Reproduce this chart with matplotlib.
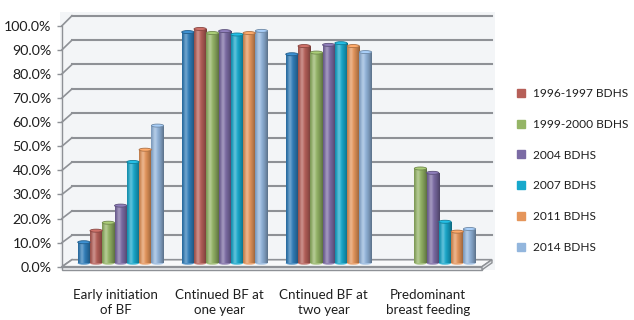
import numpy as np
import matplotlib
matplotlib.use('Agg')
import matplotlib.pyplot as plt
from matplotlib.patches import Ellipse, Polygon, Rectangle
from matplotlib.lines import Line2D
from matplotlib.transforms import ScaledTranslation
from matplotlib.colors import to_rgb

plt.rcParams['font.family'] = ['Lato', 'DejaVu Sans']
plt.rcParams['font.size'] = 10

categories = ['Early initiation\nof BF', 'Cntinued BF at\none year',
              'Cntinued BF at\ntwo year', 'Predominant\nbreast feeding']
surveys = ['1993-1994 BDHS', '1996-1997 BDHS', '1999-2000 BDHS', '2004 BDHS',
           '2007 BDHS', '2011 BDHS', '2014 BDHS']
colors = ['#2F7DBA', '#B65F58', '#95B566', '#7B6BA4', '#17A8CC', '#E5955A', '#93B6DD']

# percentages per survey, one value per category (nan = not reported)
bdhs_1993 = [8.7, 95.9, 86.7, np.nan]
bdhs_1996 = [13.5, 97.2, 90.1, np.nan]
bdhs_1999 = [16.8, 95.5, 87.4, 39.3]
bdhs_2004 = [23.9, 96.3, 90.6, 37.5]
bdhs_2007 = [42.0, 94.9, 91.3, 17.2]
bdhs_2011 = [47.1, 95.5, 90.1, 13.1]
bdhs_2014 = [57.1, 96.4, 87.6, 14.2]
series = [bdhs_1993, bdhs_1996, bdhs_1999, bdhs_2004, bdhs_2007, bdhs_2011, bdhs_2014]

W, H = 634, 320
fig = plt.figure(figsize=(W / 100, H / 100), dpi=100)
ax = fig.add_axes([62 / W, 53.3 / H, 420 / W, 241 / H])
ax.patch.set_visible(False)
for s in ax.spines.values():
    s.set_visible(False)

XL, XR = -0.516, 3.522
YMAX = 100

# plot-area background
fig.add_artist(Rectangle((60 / W, 50 / H), 435 / W, 258 / H, transform=fig.transFigure,
                         facecolor='#F3F5F7', edgecolor='none', zorder=-5))

# depth offsets of the back wall (x in data units, y in percent)
def back(x, v):
    return x + 0.096, v + (7 + 0.03 * v) / 2.41

grid_c = '#8E9196'
for v in range(0, 101, 10):
    bx0, by = back(XL, v)
    bx1, _ = back(XR, v)
    if v > 0:
        ax.plot([bx0, bx1], [by, by], color=grid_c, lw=1.5, zorder=1, clip_on=False)
    ax.plot([XL, bx0], [v, by], color=grid_c, lw=1.2, zorder=1, clip_on=False)
ax.plot([XL, XL], [0, YMAX], color=grid_c, lw=1.0, zorder=1, clip_on=False)

# floor slab
fb0 = back(XL, 0)
fb1 = back(XR, 0)
slab = 1.3
ax.add_patch(Polygon([(XL, 0), (XR, 0), fb1, fb0], closed=True, facecolor='#F8F9FA',
                     edgecolor=grid_c, lw=1.2, zorder=1, clip_on=False))
ax.add_patch(Polygon([(XL, 0), (XR, 0), (XR, -slab), (XL, -slab)], closed=True,
                     facecolor='#EDEFF1', edgecolor=grid_c, lw=1.0, zorder=1, clip_on=False))
ax.add_patch(Polygon([(XR, 0), fb1, (fb1[0], fb1[1] - slab), (XR, -slab)], closed=True,
                     facecolor='#E4E7EA', edgecolor=grid_c, lw=1.0, zorder=1, clip_on=False))

# bars sit halfway into the depth
mid = ax.transData + ScaledTranslation(0.05, 0.035, fig.dpi_scale_trans)

bw = 0.118
x = np.arange(len(categories))
cap_h = 1.25
t = np.linspace(0, 1, 48)
dark = 0.38 * (np.abs(t - 0.38) / 0.62) ** 1.6
light = 0.30 * np.exp(-((t - 0.3) / 0.16) ** 2)

for j, (vals, c) in enumerate(zip(series, colors)):
    vals = np.asarray(vals, dtype=float)
    ok = np.isfinite(vals)
    xs = x[ok] + (j - 3) * bw
    rgb = np.array(to_rgb(c))
    shade = rgb[None, :] * (1 - dark[:, None]) + (1 - rgb[None, :]) * light[:, None]
    img = shade[None, :, :]
    edge = rgb * 0.75
    bars = ax.bar(xs, vals[ok], width=bw, color=c, transform=mid, zorder=3, lw=0)
    for b, xc, v in zip(bars, xs, vals[ok]):
        im = ax.imshow(img, extent=[xc - bw / 2, xc + bw / 2, 0, v], aspect='auto',
                       interpolation='bilinear', transform=mid, zorder=3.1)
        im.set_clip_path(b)
        ax.add_patch(Ellipse((xc, 0), bw, cap_h, transform=mid, facecolor=shade[20],
                             edgecolor='none', zorder=2.9))
        ax.add_patch(Ellipse((xc, v), bw, cap_h, transform=mid,
                             facecolor=np.clip(rgb * 1.08 + 0.04, 0, 1),
                             edgecolor=edge, lw=0.6, zorder=3.2))

ax.set_xlim(XL, XR)
ax.set_ylim(0, YMAX)
ax.set_yticks(range(0, 101, 10))
ax.set_yticklabels([f'{v:.1f}%' for v in range(0, 101, 10)], fontsize=10.2)
ax.tick_params(axis='y', length=3.5, width=1, color=grid_c, pad=4, labelcolor='#1E1E1E')
ax.set_xticks(x)
ax.set_xticklabels(categories, color='#1E1E1E', linespacing=1.35, fontsize=9.6)
ax.tick_params(axis='x', length=0, pad=16)

handles = [Line2D([], [], marker='s', ls='', color=c, markersize=5.5) for c in colors[1:]]
ax.legend(handles, surveys[1:], loc='upper left', bbox_to_anchor=(516 / W, (H - 88) / H),
          bbox_transform=fig.transFigure, frameon=False, labelspacing=1.66,
          handletextpad=0.55, handlelength=0.9, borderaxespad=0, borderpad=0,
          labelcolor='#1E1E1E', fontsize=8.6)

fig.savefig('out.png', dpi=100)
